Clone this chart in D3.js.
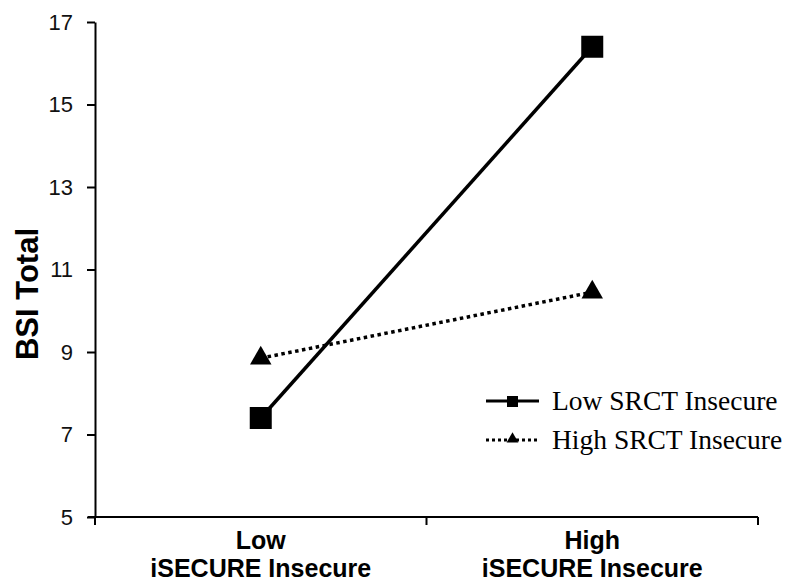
<!DOCTYPE html>
<html>
<head>
<meta charset="utf-8">
<script src="https://cdn.jsdelivr.net/npm/d3@7/dist/d3.min.js"></script>
<style>
  html, body { margin: 0; padding: 0; background: #fff; }
  svg { display: block; }
</style>
</head>
<body>
<svg id="chart" width="786" height="583"></svg>
<script>
// Categories on the x axis (two text lines each)
const categories = ["Low", "High"];
const categorySubLabel = "iSECURE Insecure";

// Series: BSI Total by iSECURE level
const seriesNames = ["Low SRCT Insecure", "High SRCT Insecure"];
const lowSrctValues = [7.4, 16.4];
const highSrctValues = [8.85, 10.45];

// Y axis ticks
const yTicks = [5, 7, 9, 11, 13, 15, 17];
const yLabel = "BSI Total";

const svg = d3.select("#chart");

const plotLeft = 95, plotRight = 758, plotTop = 22, plotBottom = 517;

const x = d3.scaleBand().domain(categories).range([plotLeft, plotRight]).padding(0);
const y = d3.scaleLinear().domain([5, 17]).range([plotBottom, plotTop]);

const cx = c => x(c) + x.bandwidth() / 2;

// Y axis
const yAxis = d3.axisLeft(y).tickValues(yTicks).tickSize(8).tickPadding(14).tickSizeOuter(0);
const gy = svg.append("g").attr("transform", `translate(${plotLeft},0)`).call(yAxis);
gy.select(".domain").attr("stroke", "#000").attr("stroke-width", 2);
gy.selectAll(".tick line").attr("stroke", "#000").attr("stroke-width", 2);
gy.selectAll(".tick text")
  .attr("font-family", "Liberation Sans, Arial, sans-serif")
  .attr("font-size", 22)
  .attr("fill", "#111");

// X axis: ticks at band edges
const xEdges = [plotLeft, x("High"), plotRight];
svg.append("line")
  .attr("x1", plotLeft - 7).attr("x2", plotRight)
  .attr("y1", plotBottom).attr("y2", plotBottom)
  .attr("stroke", "#000").attr("stroke-width", 2);
svg.selectAll(".xtick").data(xEdges).enter().append("line")
  .attr("x1", d => d).attr("x2", d => d)
  .attr("y1", plotBottom).attr("y2", plotBottom + 8)
  .attr("stroke", "#000").attr("stroke-width", 2);

const xl = svg.selectAll(".xlab").data(categories).enter().append("text")
  .attr("x", d => cx(d))
  .attr("text-anchor", "middle")
  .attr("font-family", "Liberation Sans, Arial, sans-serif")
  .attr("font-weight", "bold")
  .attr("font-size", 25)
  .attr("fill", "#000");
xl.append("tspan").attr("x", d => cx(d)).attr("y", 549).text(d => d);
xl.append("tspan").attr("x", d => cx(d)).attr("y", 577).text(categorySubLabel);

// Y axis title
svg.append("text")
  .attr("transform", `translate(38,294) rotate(-90)`)
  .attr("text-anchor", "middle")
  .attr("font-family", "Liberation Sans, Arial, sans-serif")
  .attr("font-weight", "bold")
  .attr("font-size", 31)
  .attr("fill", "#000")
  .text(yLabel);

const line = d3.line().x((d, i) => cx(categories[i])).y(d => y(d));

// Low SRCT Insecure: solid line with squares
svg.append("path").datum(lowSrctValues)
  .attr("d", line).attr("fill", "none").attr("stroke", "#000").attr("stroke-width", 3.5);
svg.selectAll(".sq").data(lowSrctValues).enter().append("rect")
  .attr("x", (d, i) => cx(categories[i]) - 11)
  .attr("y", d => y(d) - 11)
  .attr("width", 22).attr("height", 22).attr("fill", "#000");

// High SRCT Insecure: dotted line with triangles
svg.append("path").datum(highSrctValues)
  .attr("d", line).attr("fill", "none").attr("stroke", "#000")
  .attr("stroke-width", 3.5).attr("stroke-dasharray", "3.5,3.5");
const tri = d3.symbol().type(d3.symbolTriangle).size(200);
svg.selectAll(".tri").data(highSrctValues).enter().append("path")
  .attr("d", tri)
  .attr("transform", (d, i) => `translate(${cx(categories[i])},${y(d)})`)
  .attr("fill", "#000");

// Legend
const legend = svg.append("g");
const rows = [
  { name: seriesNames[0], dash: null, mark: "square", yy: 401 },
  { name: seriesNames[1], dash: "3,3", mark: "triangle", yy: 440 }
];
rows.forEach(r => {
  legend.append("line")
    .attr("x1", 486).attr("x2", 539).attr("y1", r.yy).attr("y2", r.yy)
    .attr("stroke", "#000").attr("stroke-width", 3)
    .attr("stroke-dasharray", r.dash);
  if (r.mark === "square") {
    legend.append("rect").attr("x", 507).attr("y", r.yy - 5).attr("width", 11).attr("height", 11).attr("fill", "#000");
  } else {
    legend.append("path").attr("d", d3.symbol().type(d3.symbolTriangle).size(60)())
      .attr("transform", `translate(512.5,${r.yy - 1})`).attr("fill", "#000");
  }
  legend.append("text")
    .attr("x", 552).attr("y", r.yy + 9)
    .attr("font-family", "Liberation Serif, 'Times New Roman', serif")
    .attr("font-size", 27.5)
    .attr("fill", "#000")
    .text(r.name);
});
</script>
</body>
</html>
